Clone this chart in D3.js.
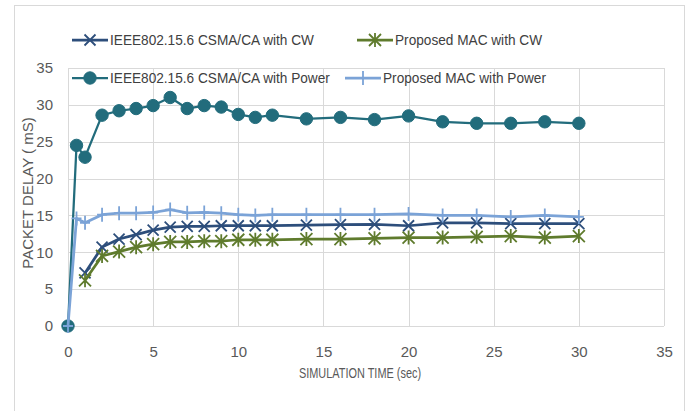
<!DOCTYPE html>
<html>
<head>
<meta charset="utf-8">
<script src="https://cdn.jsdelivr.net/npm/d3@7"></script>
<style>
  body { margin: 0; background: #fff; }
  svg text { font-family: "Liberation Sans", Arial, sans-serif; }
</style>
</head>
<body>
<svg class="chart"></svg>
<script>
// time points (sec)
var timePower = [0, 0.5, 1, 2, 3, 4, 5, 6, 7, 8, 9, 10, 11, 12, 14, 16, 18, 20, 22, 24, 26, 28, 30];
var timeCW = [1, 2, 3, 4, 5, 6, 7, 8, 9, 10, 11, 12, 14, 16, 18, 20, 22, 24, 26, 28, 30];

// packet delay (mS)
var ieeeCW = [7.2, 10.7, 11.8, 12.4, 13.0, 13.4, 13.5, 13.5, 13.6, 13.6, 13.6, 13.6, 13.7, 13.75, 13.8, 13.6, 14.0, 14.0, 13.9, 13.9, 13.9];
var proposedCW = [6.2, 9.5, 10.1, 10.7, 11.1, 11.4, 11.4, 11.5, 11.5, 11.7, 11.7, 11.7, 11.8, 11.8, 11.9, 12.0, 12.0, 12.1, 12.2, 12.0, 12.2];
var ieeePower = [0, 24.5, 22.9, 28.6, 29.2, 29.5, 29.9, 31.0, 29.5, 29.9, 29.7, 28.7, 28.3, 28.6, 28.1, 28.3, 28.0, 28.5, 27.7, 27.5, 27.5, 27.7, 27.5];
var proposedPower = [0, 14.6, 14.0, 15.1, 15.3, 15.3, 15.4, 15.8, 15.35, 15.4, 15.3, 15.1, 15.0, 15.1, 15.1, 15.1, 15.1, 15.2, 15.0, 15.0, 14.8, 15.0, 14.8];

var xTicks = [0, 5, 10, 15, 20, 25, 30, 35];
var yTicks = [0, 5, 10, 15, 20, 25, 30, 35];

var series = [
    {name: "IEEE802.15.6 CSMA/CA with CW", x: timeCW, y: ieeeCW, color: "#2d4e7b", marker: "x"},
    {name: "Proposed MAC with CW", x: timeCW, y: proposedCW, color: "#5f7b2d", marker: "star"},
    {name: "IEEE802.15.6 CSMA/CA with Power", x: timePower, y: ieeePower, color: "#226c7c", marker: "circle"},
    {name: "Proposed MAC with Power", x: timePower, y: proposedPower, color: "#7ba3d7", marker: "plus"}
];

var width = 690, height = 411;
var svg = d3.select(".chart").attr("width", width).attr("height", height);

// outer chart border
svg.append("rect")
    .attr("x", 14.5).attr("y", 5.5)
    .attr("width", 670).attr("height", 410)
    .attr("fill", "none").attr("stroke", "#d9d9d9");

var x = d3.scaleLinear().domain([0, 35]).range([68, 664]);
var y = d3.scaleLinear().domain([0, 35]).range([326, 68]);

// gridlines
svg.append("g").selectAll("line").data(yTicks).enter().append("line")
    .attr("x1", x(0)).attr("x2", x(35))
    .attr("y1", function(d) { return Math.round(y(d)) + 0.5; })
    .attr("y2", function(d) { return Math.round(y(d)) + 0.5; })
    .attr("stroke", "#d9d9d9");
svg.append("g").selectAll("line").data(xTicks).enter().append("line")
    .attr("y1", y(0)).attr("y2", y(35))
    .attr("x1", function(d) { return Math.round(x(d)) + 0.5; })
    .attr("x2", function(d) { return Math.round(x(d)) + 0.5; })
    .attr("stroke", "#d9d9d9");

// axes (labels only)
var xAxis = svg.append("g")
    .attr("transform", "translate(0," + y(0) + ")")
    .call(d3.axisBottom(x).tickValues(xTicks).tickSize(0).tickPadding(20));
var yAxis = svg.append("g")
    .attr("transform", "translate(" + x(0) + ",0)")
    .call(d3.axisLeft(y).tickValues(yTicks).tickSize(0).tickPadding(15));
[xAxis, yAxis].forEach(function(a) {
    a.select(".domain").remove();
    a.selectAll("text").attr("fill", "#595959").style("font-size", "15px");
});

svg.append("text")
    .attr("transform", "translate(360,378) scale(0.78,1)")
    .attr("text-anchor", "middle").attr("fill", "#595959")
    .style("font-size", "14px")
    .text("SIMULATION TIME (sec)");

svg.append("text")
    .attr("transform", "translate(33,193) rotate(-90)")
    .attr("text-anchor", "middle").attr("fill", "#595959")
    .style("font-size", "15px")
    .text("PACKET DELAY ( mS)");

function drawMarker(g, type, color) {
    if (type === "circle") {
        g.append("circle").attr("r", 6.2).attr("fill", color).attr("stroke", color);
        return;
    }
    var s = type === "star" ? 6 : 5.5;
    var p = g.append("path").attr("fill", "none").attr("stroke", color).attr("stroke-width", 1.8);
    var d = "";
    if (type === "x" || type === "star") {
        d += "M" + (-s) + "," + (-s) + "L" + s + "," + s + "M" + (-s) + "," + s + "L" + s + "," + (-s);
    }
    if (type === "star") {
        d += "M0," + (-s - 1) + "L0," + (s + 1);
    }
    if (type === "plus") {
        d += "M0,-7L0,7M-5,0L5,0";
    }
    p.attr("d", d);
}

var line = d3.line()
    .x(function(d) { return x(d[0]); })
    .y(function(d) { return y(d[1]); });

series.forEach(function(s) {
    var pts = s.x.map(function(t, i) { return [t, s.y[i]]; });
    var g = svg.append("g");
    g.append("path")
        .attr("d", line(pts))
        .attr("fill", "none")
        .attr("stroke", s.color)
        .attr("stroke-width", s.marker === "circle" ? 2.25 : 2.75)
        .attr("stroke-linejoin", "round");
    g.selectAll("g.m").data(pts).enter().append("g")
        .attr("class", "m")
        .attr("transform", function(d) { return "translate(" + x(d[0]) + "," + y(d[1]) + ")"; })
        .each(function() { drawMarker(d3.select(this), s.marker, s.color); });
});

// legend
var legendPos = [[72, 40], [357, 40], [72, 78], [345, 78]];
series.forEach(function(s, i) {
    var lg = svg.append("g").attr("transform", "translate(" + legendPos[i][0] + "," + legendPos[i][1] + ")");
    lg.append("line").attr("x1", 0).attr("x2", 36).attr("y1", 0).attr("y2", 0)
        .attr("stroke", s.color).attr("stroke-width", s.marker === "circle" ? 2.25 : 2.75);
    drawMarker(lg.append("g").attr("transform", "translate(18,0)"), s.marker, s.color);
    lg.append("text")
        .attr("transform", "translate(38,0) scale(0.91,1)")
        .attr("dy", "0.35em")
        .attr("fill", "#404040").style("font-size", "15px")
        .text(s.name);
});
</script>
</body>
</html>
